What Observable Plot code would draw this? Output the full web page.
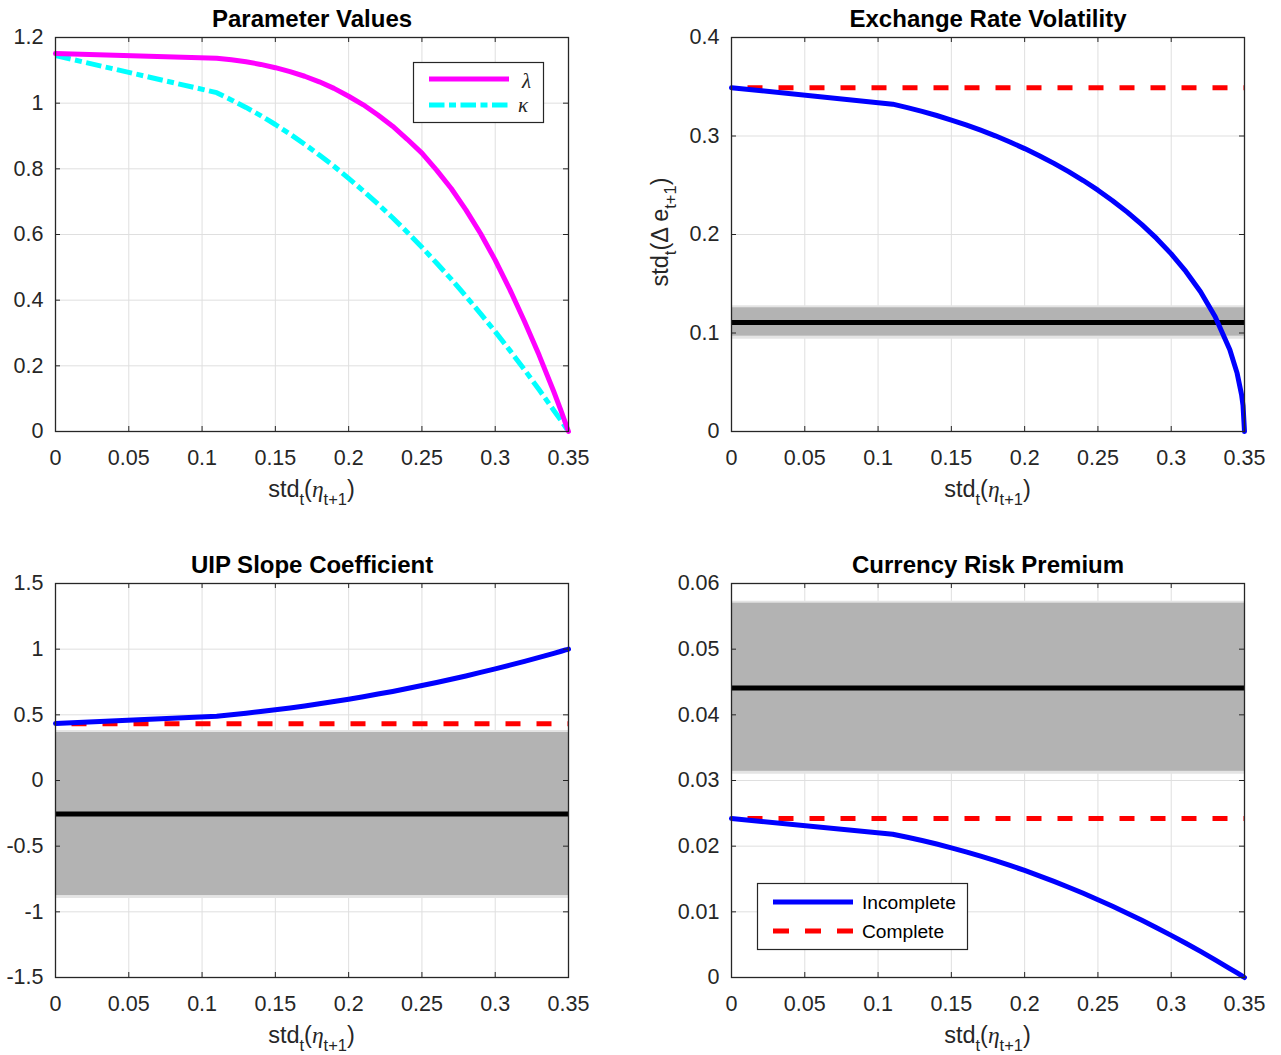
<!DOCTYPE html>
<html><head><meta charset="utf-8">
<script src="https://cdn.jsdelivr.net/npm/d3@7"></script>
<script src="https://cdn.jsdelivr.net/npm/@observablehq/plot@0.6"></script>
<style>
html,body{margin:0;padding:0;background:#fff;}
#root{position:relative;width:1281px;height:1055px;background:#fff;overflow:hidden;}
#root > svg{position:absolute;}
</style></head><body><div id="root"></div>
<script>
// ---------- data ----------
const etaStd = [0, 0.11, 0.12, 0.13, 0.14, 0.15, 0.16, 0.17, 0.18, 0.19, 0.20, 0.21, 0.22, 0.23, 0.24, 0.25, 0.26, 0.27, 0.28, 0.29, 0.30, 0.31, 0.32, 0.33, 0.34, 0.345, 0.348, 0.349, 0.35];
const lambdaVals = [1.151, 1.137, 1.132, 1.126, 1.118, 1.108, 1.096, 1.082, 1.065, 1.045, 1.021, 0.995, 0.964, 0.930, 0.890, 0.848, 0.796, 0.740, 0.675, 0.603, 0.522, 0.432, 0.335, 0.232, 0.121, 0.062, 0.025, 0.012, 0];
const kappaVals  = [1.145, 1.032, 1.010, 0.987, 0.962, 0.935, 0.906, 0.875, 0.842, 0.808, 0.771, 0.733, 0.693, 0.651, 0.607, 0.561, 0.513, 0.464, 0.412, 0.359, 0.304, 0.247, 0.188, 0.127, 0.064, 0.033, 0.013, 0.007, 0];
const volIncomplete = [0.349, 0.3323, 0.3288, 0.3250, 0.3208, 0.3162, 0.3113, 0.3059, 0.3002, 0.2939, 0.2872, 0.2800, 0.2722, 0.2638, 0.2548, 0.2450, 0.2343, 0.2227, 0.2100, 0.1960, 0.1803, 0.1625, 0.1418, 0.1166, 0.0831, 0.0590, 0.0374, 0.0264, 0];
const volComplete = 0.349;
const volData = {mean: 0.1107, lo: 0.0968, hi: 0.1256};
const uipIncomplete = [0.434, 0.490, 0.501, 0.512, 0.525, 0.538, 0.552, 0.568, 0.584, 0.601, 0.619, 0.638, 0.658, 0.678, 0.700, 0.723, 0.746, 0.771, 0.796, 0.823, 0.850, 0.878, 0.907, 0.937, 0.968, 0.984, 0.994, 0.997, 1.0];
const uipComplete = 0.432;
const uipData = {mean: -0.255, lo: -0.876, hi: 0.3655};
const crpIncomplete = [0.0242, 0.02181, 0.02135, 0.02086, 0.02033, 0.01975, 0.01914, 0.01849, 0.0178, 0.01707, 0.0163, 0.01549, 0.01464, 0.01375, 0.01282, 0.01185, 0.01085, 0.0098, 0.00871, 0.00759, 0.00642, 0.00522, 0.00397, 0.00269, 0.00136, 0.00069, 0.00028, 0.00014, 0];
const crpComplete = 0.0242;
const crpData = {mean: 0.0441, lo: 0.0314, hi: 0.0570};

const xTicks = [0, 0.05, 0.1, 0.15, 0.2, 0.25, 0.3, 0.35];
const yTicksParam = [0, 0.2, 0.4, 0.6, 0.8, 1, 1.2];
const yTicksVol = [0, 0.1, 0.2, 0.3, 0.4];
const yTicksUip = [-1.5, -1, -0.5, 0, 0.5, 1, 1.5];
const yTicksCrp = [0, 0.01, 0.02, 0.03, 0.04, 0.05, 0.06];

const titles = ["Parameter Values", "Exchange Rate Volatility", "UIP Slope Coefficient", "Currency Risk Premium"];
const legendParam = ["λ", "κ"];
const legendModel = ["Incomplete", "Complete"];

// ---------- style ----------
const FONT = '"Liberation Sans", Arial, Helvetica, sans-serif';
const SERIF = '"Liberation Serif", "DejaVu Serif", serif';
const AX = "#262626";
const GRID = "#dfdfdf";
const LW = 5;
const TICKFS = 21.5;
const root = document.getElementById("root");

function series(ys) { return etaStd.map((x, i) => ({x, y: ys[i]})); }

function band(d) {
  return [
    Plot.ruleY([d.lo, d.hi], {stroke: "#e4e4e4", strokeWidth: 5}),
    Plot.rect([d], {x1: () => 0, x2: () => 0.35, y1: "lo", y2: "hi", fill: "#b3b3b3"}),
    Plot.ruleY([d.mean], {stroke: "#000", strokeWidth: LW})
  ];
}
function complete(v) {
  return Plot.line([{x: 0, y: v}, {x: 0.35, y: v}], {x: "x", y: "y", stroke: "#ff0000", strokeWidth: LW, strokeDasharray: "15,16", strokeDashoffset: 15, strokeLinecap: "butt"});
}

function panel(o) {
  const innerW = o.width - o.ml - o.mr, innerH = o.height - o.mt - o.mb;
  const chart = Plot.plot({
    width: o.width, height: o.height,
    marginLeft: o.ml, marginRight: o.mr, marginTop: o.mt, marginBottom: o.mb,
    style: {fontFamily: FONT, color: AX, background: "transparent", overflow: "visible"},
    x: {domain: [0, 0.35]},
    y: {domain: o.yDomain},
    marks: [
      Plot.gridX(xTicks, {stroke: GRID, strokeOpacity: 1, strokeWidth: 1}),
      Plot.gridY(o.yTicks, {stroke: GRID, strokeOpacity: 1, strokeWidth: 1}),
      ...o.marks,
      Plot.tickX(xTicks, {x: d => d, insetTop: innerH - 5, stroke: AX}),
      Plot.tickX(xTicks, {x: d => d, insetBottom: innerH - 5, stroke: AX}),
      Plot.tickY(o.yTicks, {y: d => d, insetRight: innerW - 5, stroke: AX}),
      Plot.tickY(o.yTicks, {y: d => d, insetLeft: innerW - 5, stroke: AX}),
      Plot.frame({stroke: AX, strokeWidth: 1.3}),
      Plot.axisX(xTicks, {tickSize: 0, tickPadding: 18, tickFormat: d => String(d), fontSize: TICKFS, label: null}),
      Plot.axisY(o.yTicks, {tickSize: 0, tickPadding: 12, tickFormat: d => String(d), fontSize: TICKFS, label: null}),
      Plot.text([o.title], {frameAnchor: "top", dy: -11, lineAnchor: "bottom", fontWeight: "bold", fontSize: 24, fill: "#000", text: d => d})
    ]
  });
  chart.style.left = o.left + "px";
  chart.style.top = o.top + "px";
  root.appendChild(chart);
}

// Top-left: parameter values
panel({left: 0, top: 0, width: 640, height: 528, ml: 55, mr: 72, mt: 37, mb: 97,
  yDomain: [0, 1.2], yTicks: yTicksParam, title: titles[0],
  marks: [
    Plot.line(series(kappaVals), {x: "x", y: "y", stroke: "#00ffff", strokeWidth: LW, strokeDasharray: "15.5,4.5,7,4.5", strokeLinecap: "butt"}),
    Plot.line(series(lambdaVals), {x: "x", y: "y", stroke: "#ff00ff", strokeWidth: LW})
  ]});

// Top-right: exchange rate volatility
panel({left: 640, top: 0, width: 641, height: 528, ml: 91, mr: 37, mt: 37, mb: 97,
  yDomain: [0, 0.4], yTicks: yTicksVol, title: titles[1],
  marks: [
    ...band(volData),
    complete(volComplete),
    Plot.line(series(volIncomplete), {x: "x", y: "y", stroke: "#0000ff", strokeWidth: LW})
  ]});

// Bottom-left: UIP slope
panel({left: 0, top: 528, width: 640, height: 527, ml: 55, mr: 72, mt: 55, mb: 78,
  yDomain: [-1.5, 1.5], yTicks: yTicksUip, title: titles[2],
  marks: [
    ...band(uipData),
    complete(uipComplete),
    Plot.line(series(uipIncomplete), {x: "x", y: "y", stroke: "#0000ff", strokeWidth: LW})
  ]});

// Bottom-right: currency risk premium
panel({left: 640, top: 528, width: 641, height: 527, ml: 91, mr: 37, mt: 55, mb: 78,
  yDomain: [0, 0.06], yTicks: yTicksCrp, title: titles[3],
  marks: [
    ...band(crpData),
    complete(crpComplete),
    Plot.line(series(crpIncomplete), {x: "x", y: "y", stroke: "#0000ff", strokeWidth: LW})
  ]});

// ---------- overlay: axis labels & legends ----------
const ov = d3.select(root).append("svg")
  .attr("width", 1281).attr("height", 1055)
  .style("left", "0px").style("top", "0px")
  .attr("font-family", FONT);

const LABFS = 23.5, SUBFS = 16.5, SUBDY = 8;
function xlabel(cx, base) {
  const t = ov.append("text").attr("x", cx).attr("y", base).attr("text-anchor", "middle")
    .attr("font-size", LABFS).attr("fill", AX);
  t.append("tspan").text("std");
  t.append("tspan").attr("dy", SUBDY).attr("font-size", SUBFS).text("t");
  t.append("tspan").attr("dy", -SUBDY).text("(");
  t.append("tspan").attr("font-family", SERIF).attr("font-style", "italic").text("η");
  t.append("tspan").attr("dy", SUBDY).attr("font-size", SUBFS).text("t+1");
  t.append("tspan").attr("dy", -SUBDY).text(")");
}
xlabel(311.5, 497); xlabel(987.5, 497); xlabel(311.5, 1043); xlabel(987.5, 1043);

{
  const g = ov.append("g").attr("transform", "translate(668,232) rotate(-90)");
  const t = g.append("text").attr("x", 0).attr("y", 0).attr("text-anchor", "middle")
    .attr("font-size", LABFS).attr("fill", AX);
  t.append("tspan").text("std");
  t.append("tspan").attr("dy", SUBDY).attr("font-size", SUBFS).text("t");
  t.append("tspan").attr("dy", -SUBDY).text("(Δ e");
  t.append("tspan").attr("dy", SUBDY).attr("font-size", SUBFS).text("t+1");
  t.append("tspan").attr("dy", -SUBDY).text(")");
}

// legend top-left
{
  const g = ov.append("g");
  g.append("rect").attr("x", 413.5).attr("y", 62.5).attr("width", 130).attr("height", 60)
    .attr("fill", "#fff").attr("stroke", AX).attr("stroke-width", 1.2);
  g.append("line").attr("x1", 429).attr("x2", 509).attr("y1", 79).attr("y2", 79)
    .attr("stroke", "#ff00ff").attr("stroke-width", LW);
  g.append("line").attr("x1", 429).attr("x2", 509).attr("y1", 105).attr("y2", 105)
    .attr("stroke", "#00ffff").attr("stroke-width", LW).attr("stroke-dasharray", "15.5,4.5,7,4.5");
  g.append("text").attr("x", 522).attr("y", 88).attr("font-family", SERIF).attr("font-style", "italic")
    .attr("font-size", 21).attr("fill", AX).text(legendParam[0]);
  g.append("text").attr("x", 518).attr("y", 112).attr("font-family", SERIF).attr("font-style", "italic")
    .attr("font-size", 21).attr("fill", AX).text(legendParam[1]);
}
// legend bottom-right
{
  const g = ov.append("g");
  g.append("rect").attr("x", 757.5).attr("y", 883.5).attr("width", 210).attr("height", 66)
    .attr("fill", "#fff").attr("stroke", AX).attr("stroke-width", 1.2);
  g.append("line").attr("x1", 773).attr("x2", 853).attr("y1", 902).attr("y2", 902)
    .attr("stroke", "#0000ff").attr("stroke-width", LW);
  g.append("line").attr("x1", 773).attr("x2", 853).attr("y1", 931).attr("y2", 931)
    .attr("stroke", "#ff0000").attr("stroke-width", LW).attr("stroke-dasharray", "16,16");
  g.append("text").attr("x", 862).attr("y", 909).attr("font-size", 19.2).attr("fill", "#000").text(legendModel[0]);
  g.append("text").attr("x", 862).attr("y", 938).attr("font-size", 19.2).attr("fill", "#000").text(legendModel[1]);
}
</script></body></html>
